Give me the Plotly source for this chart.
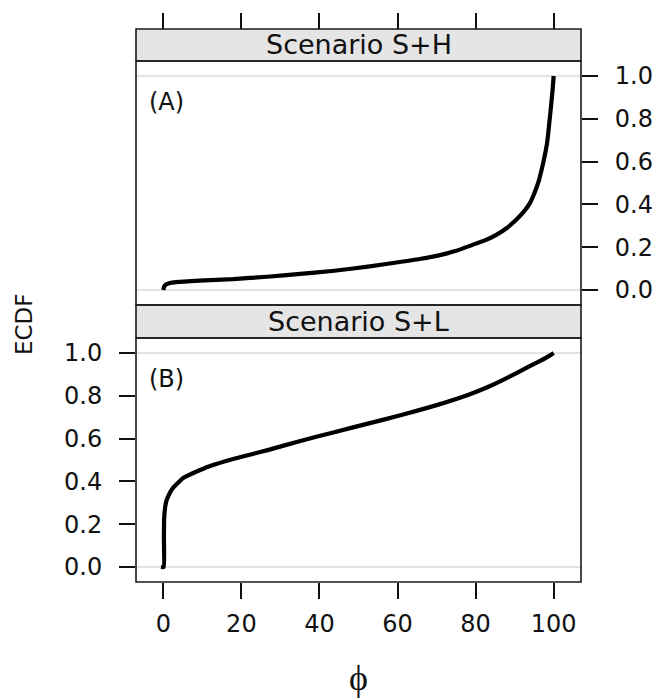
import plotly.graph_objects as go

# ---- data ----
phi_A = [0, 0.2, 0.7, 1.5, 3.3, 9.3, 17.9, 26.5, 35.1, 43.8, 52.4, 61.0, 66.0, 70.6, 75.0,
         79.2, 82.5, 85.3, 88.0, 90.4, 92.3, 93.9, 95.0, 96.0, 97.3, 98.3, 99.2, 99.7, 100]
ecdf_A = [0, 0.015, 0.026, 0.032, 0.037, 0.044, 0.051, 0.062, 0.075, 0.09, 0.109, 0.132, 0.146, 0.162, 0.183,
          0.211, 0.233, 0.258, 0.29, 0.328, 0.365, 0.406, 0.45, 0.499, 0.593, 0.686, 0.837, 0.93, 1.0]

phi_B = [-0.6, 0.1, 0.15, 0.2, 0.4, 0.8, 1.5, 2.4, 3.3, 5.0, 8.4, 12.0, 17.9, 23.1, 26.5, 35.1,
         43.8, 52.4, 61.0, 69.6, 78.2, 83.0, 86.8, 91.1, 95.4, 98.0, 100]
ecdf_B = [0, 0, 0.135, 0.22, 0.27, 0.31, 0.34, 0.368, 0.385, 0.415, 0.445, 0.472, 0.505, 0.529, 0.545, 0.589,
          0.630, 0.670, 0.71, 0.754, 0.805, 0.84, 0.872, 0.912, 0.953, 0.977, 1.0]

x_ticks = [0, 20, 40, 60, 80, 100]
y_ticks = [0.0, 0.2, 0.4, 0.6, 0.8, 1.0]
y_tick_labels = ["0.0", "0.2", "0.4", "0.6", "0.8", "1.0"]
panel_titles = ["Scenario S+H", "Scenario S+L"]
panel_tags = ["(A)", "(B)"]

W, H = 654, 699
FONT = "DejaVu Sans, Verdana, sans-serif"

def px_x(p):
    return p / W

def px_y(p):
    return 1 - p / H

XL, XR = 136, 581
UP_STRIP = (29, 61)
UP_PANEL = (61, 305)
LO_STRIP = (305, 338)
LO_PANEL = (338, 582)

xdom = [px_x(XL), px_x(XR)]
ydom_up = [px_y(UP_PANEL[1]), px_y(UP_PANEL[0])]
ydom_lo = [px_y(LO_PANEL[1]), px_y(LO_PANEL[0])]

XR_ = [-7, 107]
YR_ = [-0.07, 1.07]
TL = 16

fig = go.Figure()
fig.add_trace(go.Scatter(x=phi_A, y=ecdf_A, mode="lines", xaxis="x2", yaxis="y",
                         line=dict(color="black", width=4.2, shape="spline", smoothing=0.5),
                         showlegend=False, hoverinfo="skip"))
fig.add_trace(go.Scatter(x=phi_B, y=ecdf_B, mode="lines", xaxis="x", yaxis="y2",
                         line=dict(color="black", width=4.2, shape="spline", smoothing=0.4),
                         showlegend=False, hoverinfo="skip"))

tickfont = dict(family=FONT, size=24, color="#111")
common_x = dict(range=XR_, tickvals=x_ticks, showgrid=False, zeroline=False, showline=False,
                ticks="outside", ticklen=TL, tickwidth=1.6, tickcolor="#111")
common_y = dict(range=YR_, tickvals=y_ticks, ticktext=y_tick_labels, showgrid=False, zeroline=False,
                showline=False, ticks="outside", ticklen=TL, tickwidth=1.6, tickcolor="#111")

fig.update_layout(
    width=W, height=H,
    margin=dict(l=0, r=0, t=0, b=0, autoexpand=False),
    paper_bgcolor="white", plot_bgcolor="white",
    showlegend=False,
    xaxis=dict(domain=xdom, anchor="y2", side="bottom", tickfont=tickfont, ticklabelstandoff=4, **common_x),
    xaxis2=dict(domain=xdom, anchor="free", position=px_y(UP_STRIP[0]), side="top", matches="x",
                showticklabels=False, **common_x),
    yaxis=dict(domain=ydom_up, anchor="x2", side="right", tickfont=tickfont, ticklabelstandoff=12, **common_y),
    yaxis3=dict(overlaying="y", anchor="x2", side="left", showticklabels=False, **common_y),
    yaxis2=dict(domain=ydom_lo, anchor="x", side="left", tickfont=tickfont, ticklabelstandoff=12, **common_y),
    yaxis4=dict(overlaying="y2", anchor="x", side="right", showticklabels=False, **common_y),
)

shapes = []
# reference lines at 0 and 1
for yref in ["y", "y2"]:
    xr = "x2" if yref == "y" else "x"
    for v in (0, 1):
        shapes.append(dict(type="line", xref=f"{xr} domain", yref=yref, x0=0, x1=1, y0=v, y1=v,
                           line=dict(color="#e3e3e3", width=1.8), layer="below"))
# strips
for (t0, t1) in (UP_STRIP, LO_STRIP):
    shapes.append(dict(type="rect", xref="paper", yref="paper", x0=px_x(XL), x1=px_x(XR),
                       y0=px_y(t1), y1=px_y(t0), fillcolor="#e5e5e5",
                       line=dict(color="#1a1a1a", width=1.6), layer="above"))
# panel borders
for (t0, t1) in (UP_PANEL, LO_PANEL):
    shapes.append(dict(type="rect", xref="paper", yref="paper", x0=px_x(XL), x1=px_x(XR),
                       y0=px_y(t1), y1=px_y(t0), fillcolor="rgba(0,0,0,0)",
                       line=dict(color="#1a1a1a", width=1.6), layer="above"))
fig.update_layout(shapes=shapes)

ann = []
for title, (t0, t1) in zip(panel_titles, (UP_STRIP, LO_STRIP)):
    ann.append(dict(text=title, xref="paper", yref="paper", x=(xdom[0] + xdom[1]) / 2,
                    y=(px_y(t0) + px_y(t1)) / 2, showarrow=False, xanchor="center", yanchor="middle",
                    font=dict(family=FONT, size=27, color="#111")))
for tag, yr, xr in zip(panel_tags, ("y domain", "y2 domain"), ("x2 domain", "x domain")):
    ann.append(dict(text=tag, xref=xr, yref=yr, x=11 / (XR - XL), y=0.83, showarrow=False,
                    xanchor="left", yanchor="middle", font=dict(family=FONT, size=24, color="#111")))
ann.append(dict(text="ECDF", xref="paper", yref="paper", x=px_x(24), y=px_y(324), textangle=-90,
                showarrow=False, xanchor="center", yanchor="middle",
                font=dict(family=FONT, size=23, color="#111")))
ann.append(dict(text="\u03d5", xref="paper", yref="paper", x=px_x(358.5), y=px_y(678),
                showarrow=False, xanchor="center", yanchor="middle",
                font=dict(family="Liberation Serif, DejaVu Serif, serif", size=36, color="#111")))
fig.update_layout(annotations=ann)

fig.write_html("out.html", config={"displayModeBar": False},
               post_script="document.body.style.margin='0';document.body.style.padding='0';")
